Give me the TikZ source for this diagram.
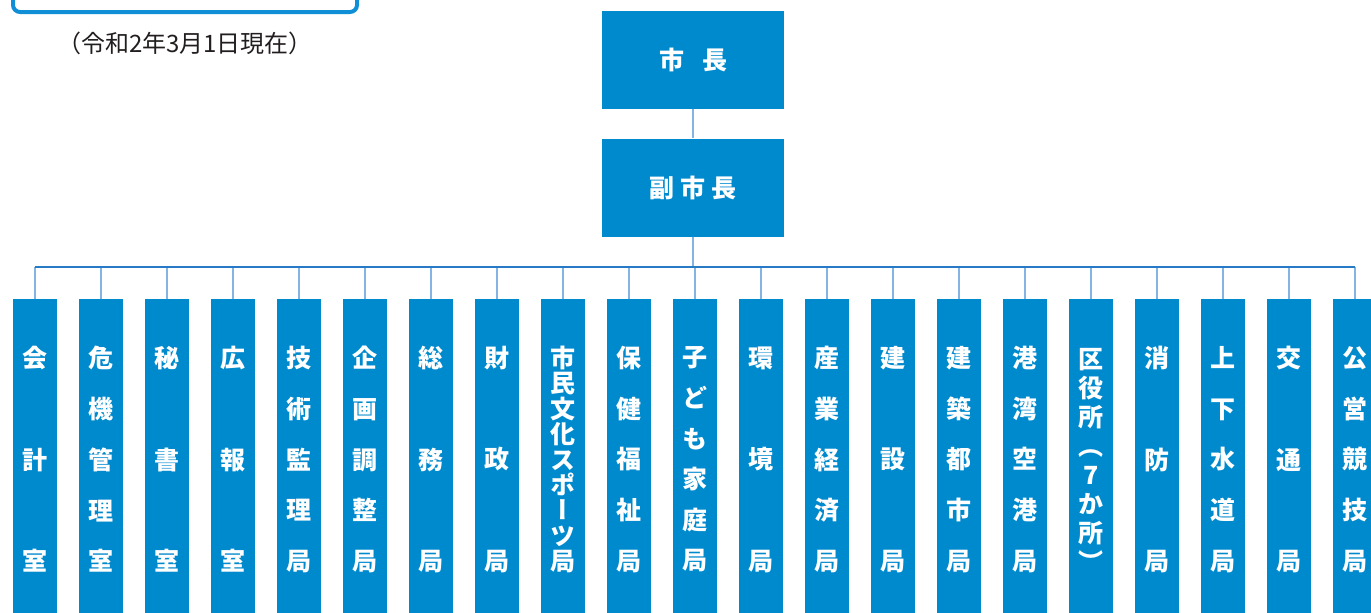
\documentclass[tikz,border=0pt]{standalone}
\usepackage{fontspec}
\newfontfamily\jp{Noto Sans CJK JP}
\newfontfamily\jpv{Noto Sans CJK JP}[RawFeature=+vert]
\definecolor{boxblue}{RGB}{0,138,206}
\definecolor{frameblue}{RGB}{16,143,214}
\definecolor{busblue}{RGB}{38,122,198}
\definecolor{lineblue}{RGB}{132,180,226}
\definecolor{datetext}{RGB}{35,30,30}
\tikzset{
  post/.style={fill=boxblue, text=white, minimum width=182pt, minimum height=98pt,
    inner sep=0pt, font=\jp\bfseries\fontsize{25}{28}\selectfont},
  dept/.style={fill=boxblue, text=white, minimum width=44pt, minimum height=321pt,
    inner sep=0pt, align=center},
  trunk/.style={draw=busblue, line width=1.4pt},
  branch/.style={draw=lineblue, line width=2pt},
  frame/.style={draw=frameblue, line width=4pt, rounded corners=7pt}
}
\begin{document}
\begin{tikzpicture}[x=1pt,y=-1pt]
    \useasboundingbox (0,0) rectangle (1371,613);
    % Title frame.
    \draw[frame] (13,-20) rectangle (357,12);
    \node[font=\jp\fontsize{24}{28}\selectfont, text=datetext] (asof) at (185,43) {（令和2年3月1日現在）};
    % Mayor.
    \node[post] (mayor) at (693,60) {市\hspace{18pt}長};
    \node[post] (vice) at (693,187.5) {副\hspace{6pt}市\hspace{6pt}長};
    \draw[branch] (mayor) -- (vice);
    \coordinate (bus) at (694,267);
    \draw[branch] (vice.south) -- (vice.south |- bus);
    % Departments.
    \foreach \lab/\n [count=\i] in {{会\\計\\室}/3, {危\\機\\管\\理\\室}/5, {秘\\書\\室}/3,
      {広\\報\\室}/3, {技\\術\\監\\理\\局}/5, {企\\画\\調\\整\\局}/5, {総\\務\\局}/3,
      {財\\政\\局}/3, {市\\民\\文\\化\\ス\\ポ\\ー\\ツ\\局}/9, {保\\健\\福\\祉\\局}/5,
      {子\\ど\\も\\家\\庭\\局}/6, {環\\境\\局}/3, {産\\業\\経\\済\\局}/5, {建\\設\\局}/3,
      {建\\築\\都\\市\\局}/5, {港\\湾\\空\\港\\局}/5, {区\\役\\所\\（\\7\\か\\所\\）}/8,
      {消\\防\\局}/3, {上\\下\\水\\道\\局}/5, {交\\通\\局}/3, {公\\営\\競\\技\\局}/5}
    {
      \pgfmathsetmacro\lsk{203/(\n-1)}
      \node[dept, font={\jpv\bfseries\fontsize{25}{\lsk}\selectfont}] (d\i) at ({35+66*(\i-1)},459.5) {\lab};
      \draw[branch] (d\i.north) -- (d\i.north |- bus);
    }
    \draw[trunk] (d1.north |- bus) -- (d21.north |- bus);
  \end{tikzpicture}
\end{document}
